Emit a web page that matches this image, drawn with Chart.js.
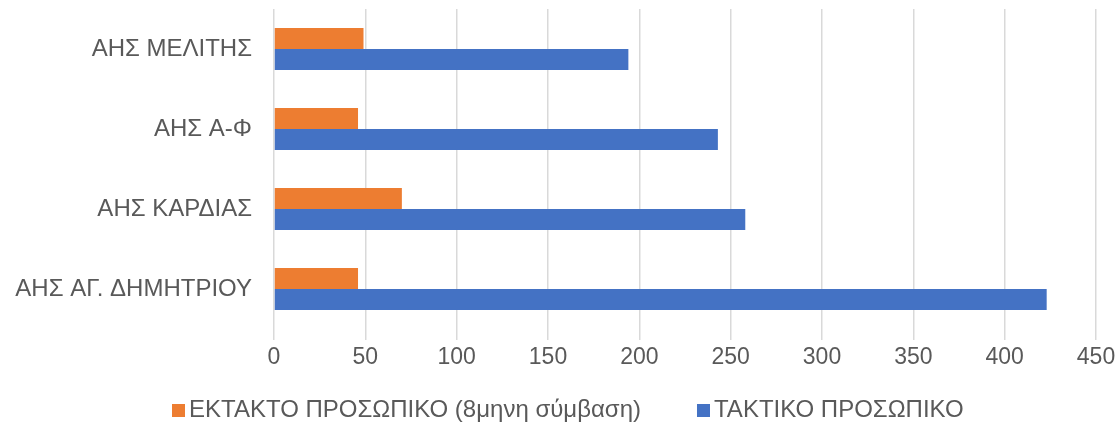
<!DOCTYPE html>
<html>
<head>
<meta charset="utf-8">
<script src="https://cdn.jsdelivr.net/npm/chart.js@4.4.1/dist/chart.umd.min.js"></script>
<style>
  html, body { margin: 0; padding: 0; background: #fff; }
  #wrap { width: 1120px; height: 422px; position: relative; }
</style>
</head>
<body>
<div id="wrap"><canvas id="staffChart"></canvas></div>
<script>
const categories = ["ΑΗΣ ΜΕΛΙΤΗΣ", "ΑΗΣ Α-Φ", "ΑΗΣ ΚΑΡΔΙΑΣ", "ΑΗΣ ΑΓ. ΔΗΜΗΤΡΙΟΥ"];
const temporaryStaff = [49, 46, 70, 46];
const permanentStaff = [194, 243, 258, 423];
const seriesNames = ["ΕΚΤΑΚΤΟ ΠΡΟΣΩΠΙΚΟ (8μηνη σύμβαση)", "ΤΑΚΤΙΚΟ ΠΡΟΣΩΠΙΚΟ"];
const xTicks = [0, 50, 100, 150, 200, 250, 300, 350, 400, 450];

const textColor = "#595959";
const fontFamily = "'Liberation Sans', Arial, sans-serif";

// legend drawn by hand so the box / text spacing matches the original
const bottomLegend = {
    id: "bottomLegend",
    afterDraw(chart) {
        const ctx = chart.ctx;
        ctx.save();
        ctx.font = "24px " + fontFamily;
        ctx.textBaseline = "middle";
        let x = 172;
        const y = 410;
        chart.data.datasets.forEach(function (ds) {
            ctx.fillStyle = ds.backgroundColor;
            ctx.fillRect(x, y - 6, 13, 13);
            ctx.fillStyle = textColor;
            ctx.fillText(ds.label, x + 17, y);
            x += 17 + ctx.measureText(ds.label).width + 56;
        });
        ctx.restore();
    }
};

const ctx = document.getElementById("staffChart").getContext("2d");

new Chart(ctx, {
    type: "bar",
    data: {
        labels: categories,
        datasets: [
            {
                label: seriesNames[0],
                data: temporaryStaff,
                backgroundColor: "#ED7D31"
            },
            {
                label: seriesNames[1],
                data: permanentStaff,
                backgroundColor: "#4472C4"
            }
        ]
    },
    options: {
        indexAxis: "y",
        responsive: true,
        maintainAspectRatio: false,
        animation: false,
        categoryPercentage: 0.525,
        barPercentage: 1,
        layout: { padding: { top: 9, right: 24, left: 0, bottom: 0 } },
        plugins: {
            legend: { display: false },
            tooltip: { enabled: false }
        },
        scales: {
            x: {
                min: 0,
                max: 450,
                afterBuildTicks: function (scale) {
                    scale.ticks = xTicks.map(function (v) { return { value: v }; });
                },
                afterFit: function (scale) { scale.height = 93; },
                grid: { color: "#d9d9d9", lineWidth: 1.5, tickLength: 11 },
                border: { display: false },
                ticks: {
                    color: textColor,
                    padding: 4,
                    font: { family: fontFamily, size: 23 }
                }
            },
            y: {
                afterFit: function (scale) {
                    scale.width = 274;
                    scale.paddingTop = 0;
                    scale.paddingBottom = 0;
                },
                grid: { display: false, drawTicks: false },
                border: { display: false },
                ticks: {
                    color: textColor,
                    padding: 22,
                    font: { family: fontFamily, size: 24 }
                }
            }
        }
    },
    plugins: [bottomLegend]
});
</script>
</body>
</html>
